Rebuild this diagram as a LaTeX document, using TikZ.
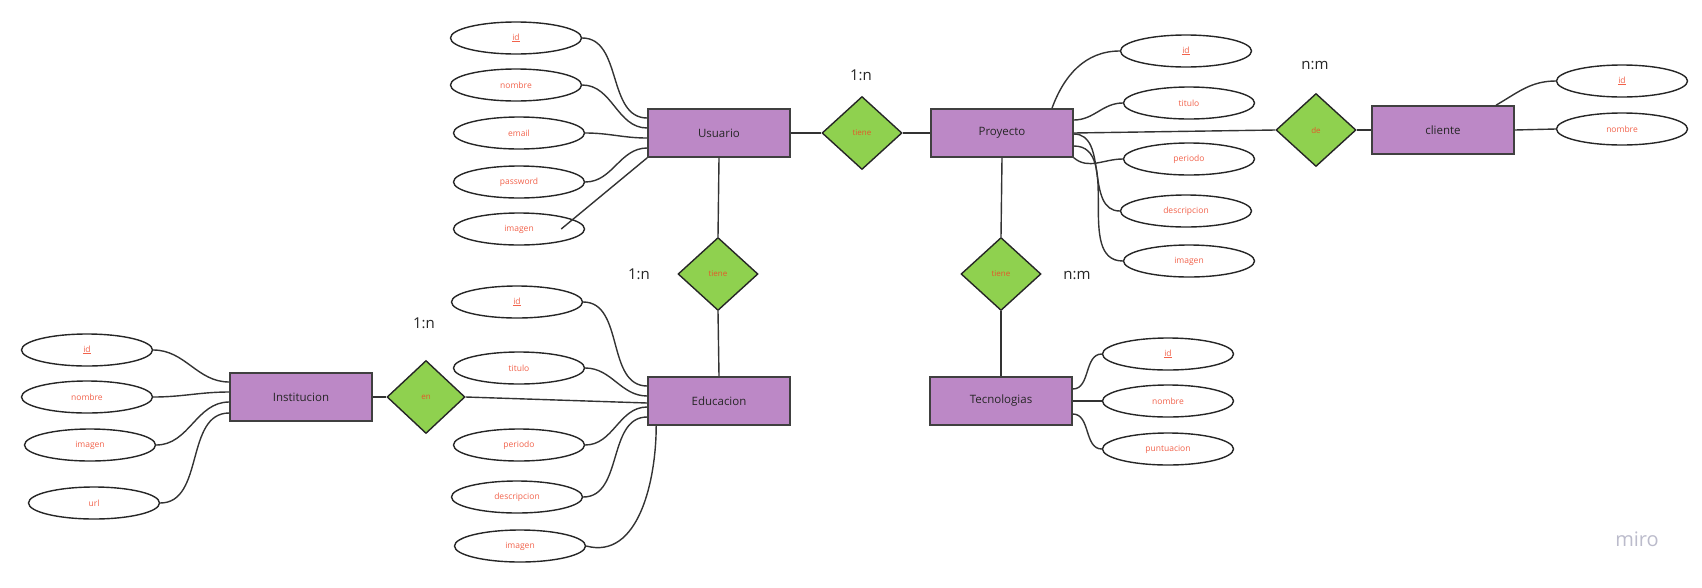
\documentclass[tikz,border=0pt]{standalone}
\usepackage{fontspec}
\setmainfont{Open Sans}
\usepackage{xcolor}
\usepackage{tikz}
\usetikzlibrary{shapes.geometric, positioning}
\definecolor{entityfill}{HTML}{BC88C6}
\definecolor{relfill}{HTML}{8FD14F}
\definecolor{attrtext}{HTML}{F2624B}
\definecolor{reltext}{HTML}{E4572A}
\definecolor{mirogrey}{HTML}{BBBBCB}

\begin{document}
\begin{tikzpicture}[x=1pt, y=1pt,
  entity/.style={draw=black!75, line width=1.6pt, fill=entityfill, minimum width=142pt, minimum height=48pt, inner sep=0pt, font=\fontsize{11.5}{14}\selectfont, text=black!85},
  relation/.style={diamond, draw=black!85, line width=1.4pt, fill=relfill, minimum width=80pt, minimum height=73pt, inner sep=0pt, font=\fontsize{8}{10}\selectfont, text=reltext},
  attr/.style={ellipse, draw=black!85, line width=1.4pt, fill=white, minimum width=131pt, minimum height=32pt, inner sep=0pt, font=\fontsize{8.5}{10}\selectfont, text=attrtext},
  card/.style={font=\fontsize{15}{18}\selectfont, text=black!85},
  link/.style={draw=black!80, line width=1.4pt}]
\useasboundingbox (0,0) rectangle (1702,-587);
% entities
\node[entity] (usuario) at (719,-133) {Usuario};
\node[entity] (proyecto) at (1002,-133) {Proyecto};
\node[entity] (cliente) at (1443,-130) {cliente};
\node[entity] (educacion) at (719,-401) {Educacion};
\node[entity] (tecnologias) at (1001,-401) {Tecnologias};
\node[entity] (institucion) at (301,-397) {Institucion};
% relations
\node[relation] (tieneUP) at (862,-133) {tiene};
\node[relation] (dePC) at (1316,-130) {de};
\node[relation] (tieneUE) at (718,-274) {tiene};
\node[relation] (tienePT) at (1001,-274) {tiene};
\node[relation, minimum width=78pt] (enIE) at (426,-397) {en};
% cardinalities
\foreach \nm/\x/\y/\descr in {cardUP/861/75/1:n, cardPC/1315/65/n:m, cardUE/639/274/1:n, cardPT/1077/275/n:m, cardIE/424/323/1:n}
\node[card] (\nm) at (\x,-\y) {\descr};
% attributes
\foreach \nm/\x/\y/\descr in {uid/516/38/\underline{id}, unombre/516/85/nombre, uemail/519/133/email, upassword/519/182/password, uimagen/519/229/imagen,
  pid/1186/51/\underline{id}, ptitulo/1189/103/titulo, pperiodo/1189/159/periodo, pdescripcion/1186/211/descripcion, pimagen/1189/261/imagen,
  cid/1622/81/\underline{id}, cnombre/1622/129/nombre,
  eid/517/302/\underline{id}, etitulo/519/368/titulo, eperiodo/519/445/periodo, edescripcion/517/497/descripcion, eimagen/520/546/imagen,
  tid/1168/354/\underline{id}, tnombre/1168/401/nombre, tpuntuacion/1168/449/puntuacion,
  iid/87/350/\underline{id}, inombre/87/397/nombre, iimagen/90/445/imagen, iurl/94/503/url}
\node[attr] (\nm) at (\x,-\y) {\descr};
% relation lines
\draw[link] (usuario.east) -- (tieneUP.west);
\draw[link] (tieneUP.east) -- (proyecto.west);
\draw[link] (proyecto.east) -- (dePC.west);
\draw[link] (dePC.east) -- (cliente.west);
\draw[link] (usuario.south) -- (tieneUE.north);
\draw[link] (tieneUE.south) -- (educacion.north);
\draw[link] (proyecto.south) -- (tienePT.north);
\draw[link] (tienePT.south) -- (tecnologias.north);
\draw[link] (institucion.east) -- (enIE.west);
\draw[link] (enIE.east) -- ([yshift=-2pt]educacion.west);
% attribute lines
\foreach \a/\s in {uid/15, unombre/5, uemail/-5, upassword/-15}
\draw[link] (\a.east) to[out=0,in=180] ([yshift=\s pt]usuario.west);
\draw[link] ([xshift=-24pt]uimagen.east) -- (usuario.south west);
\foreach \a/\s in {eid/15, etitulo/5, eperiodo/-6, edescripcion/-16}
\draw[link] (\a.east) to[out=0,in=180] ([yshift=\s pt]educacion.west);
\draw[link] (eimagen.east) to[out=-15,in=-90] ([xshift=9pt]educacion.south west);
\foreach \a/\s in {iid/15, inombre/5, iimagen/-5, iurl/-16}
\draw[link] (\a.east) to[out=0,in=180] ([yshift=\s pt]institucion.west);
\draw[link] ([xshift=50pt]proyecto.north) to[out=70,in=180] (pid.west);
\foreach \a/\s in {ptitulo/13, pdescripcion/-1, pimagen/-13}
\draw[link] ([yshift=\s pt]proyecto.east) to[out=0,in=180] (\a.west);
\draw[link] (proyecto.south east) to[out=-40,in=180] (pperiodo.west);
\draw[link] ([xshift=53pt]cliente.north) to[out=30,in=180] (cid.west);
\draw[link] (cliente.east) -- (cnombre.west);
\foreach \a/\s in {tid/12, tnombre/0, tpuntuacion/-13}
\draw[link] ([yshift=\s pt]tecnologias.east) to[out=0,in=180] (\a.west);
% watermark
\node[font=\fontsize{20}{24}\selectfont, text=mirogrey] (miro) at (1637,-539) {miro};
\end{tikzpicture}
\end{document}
